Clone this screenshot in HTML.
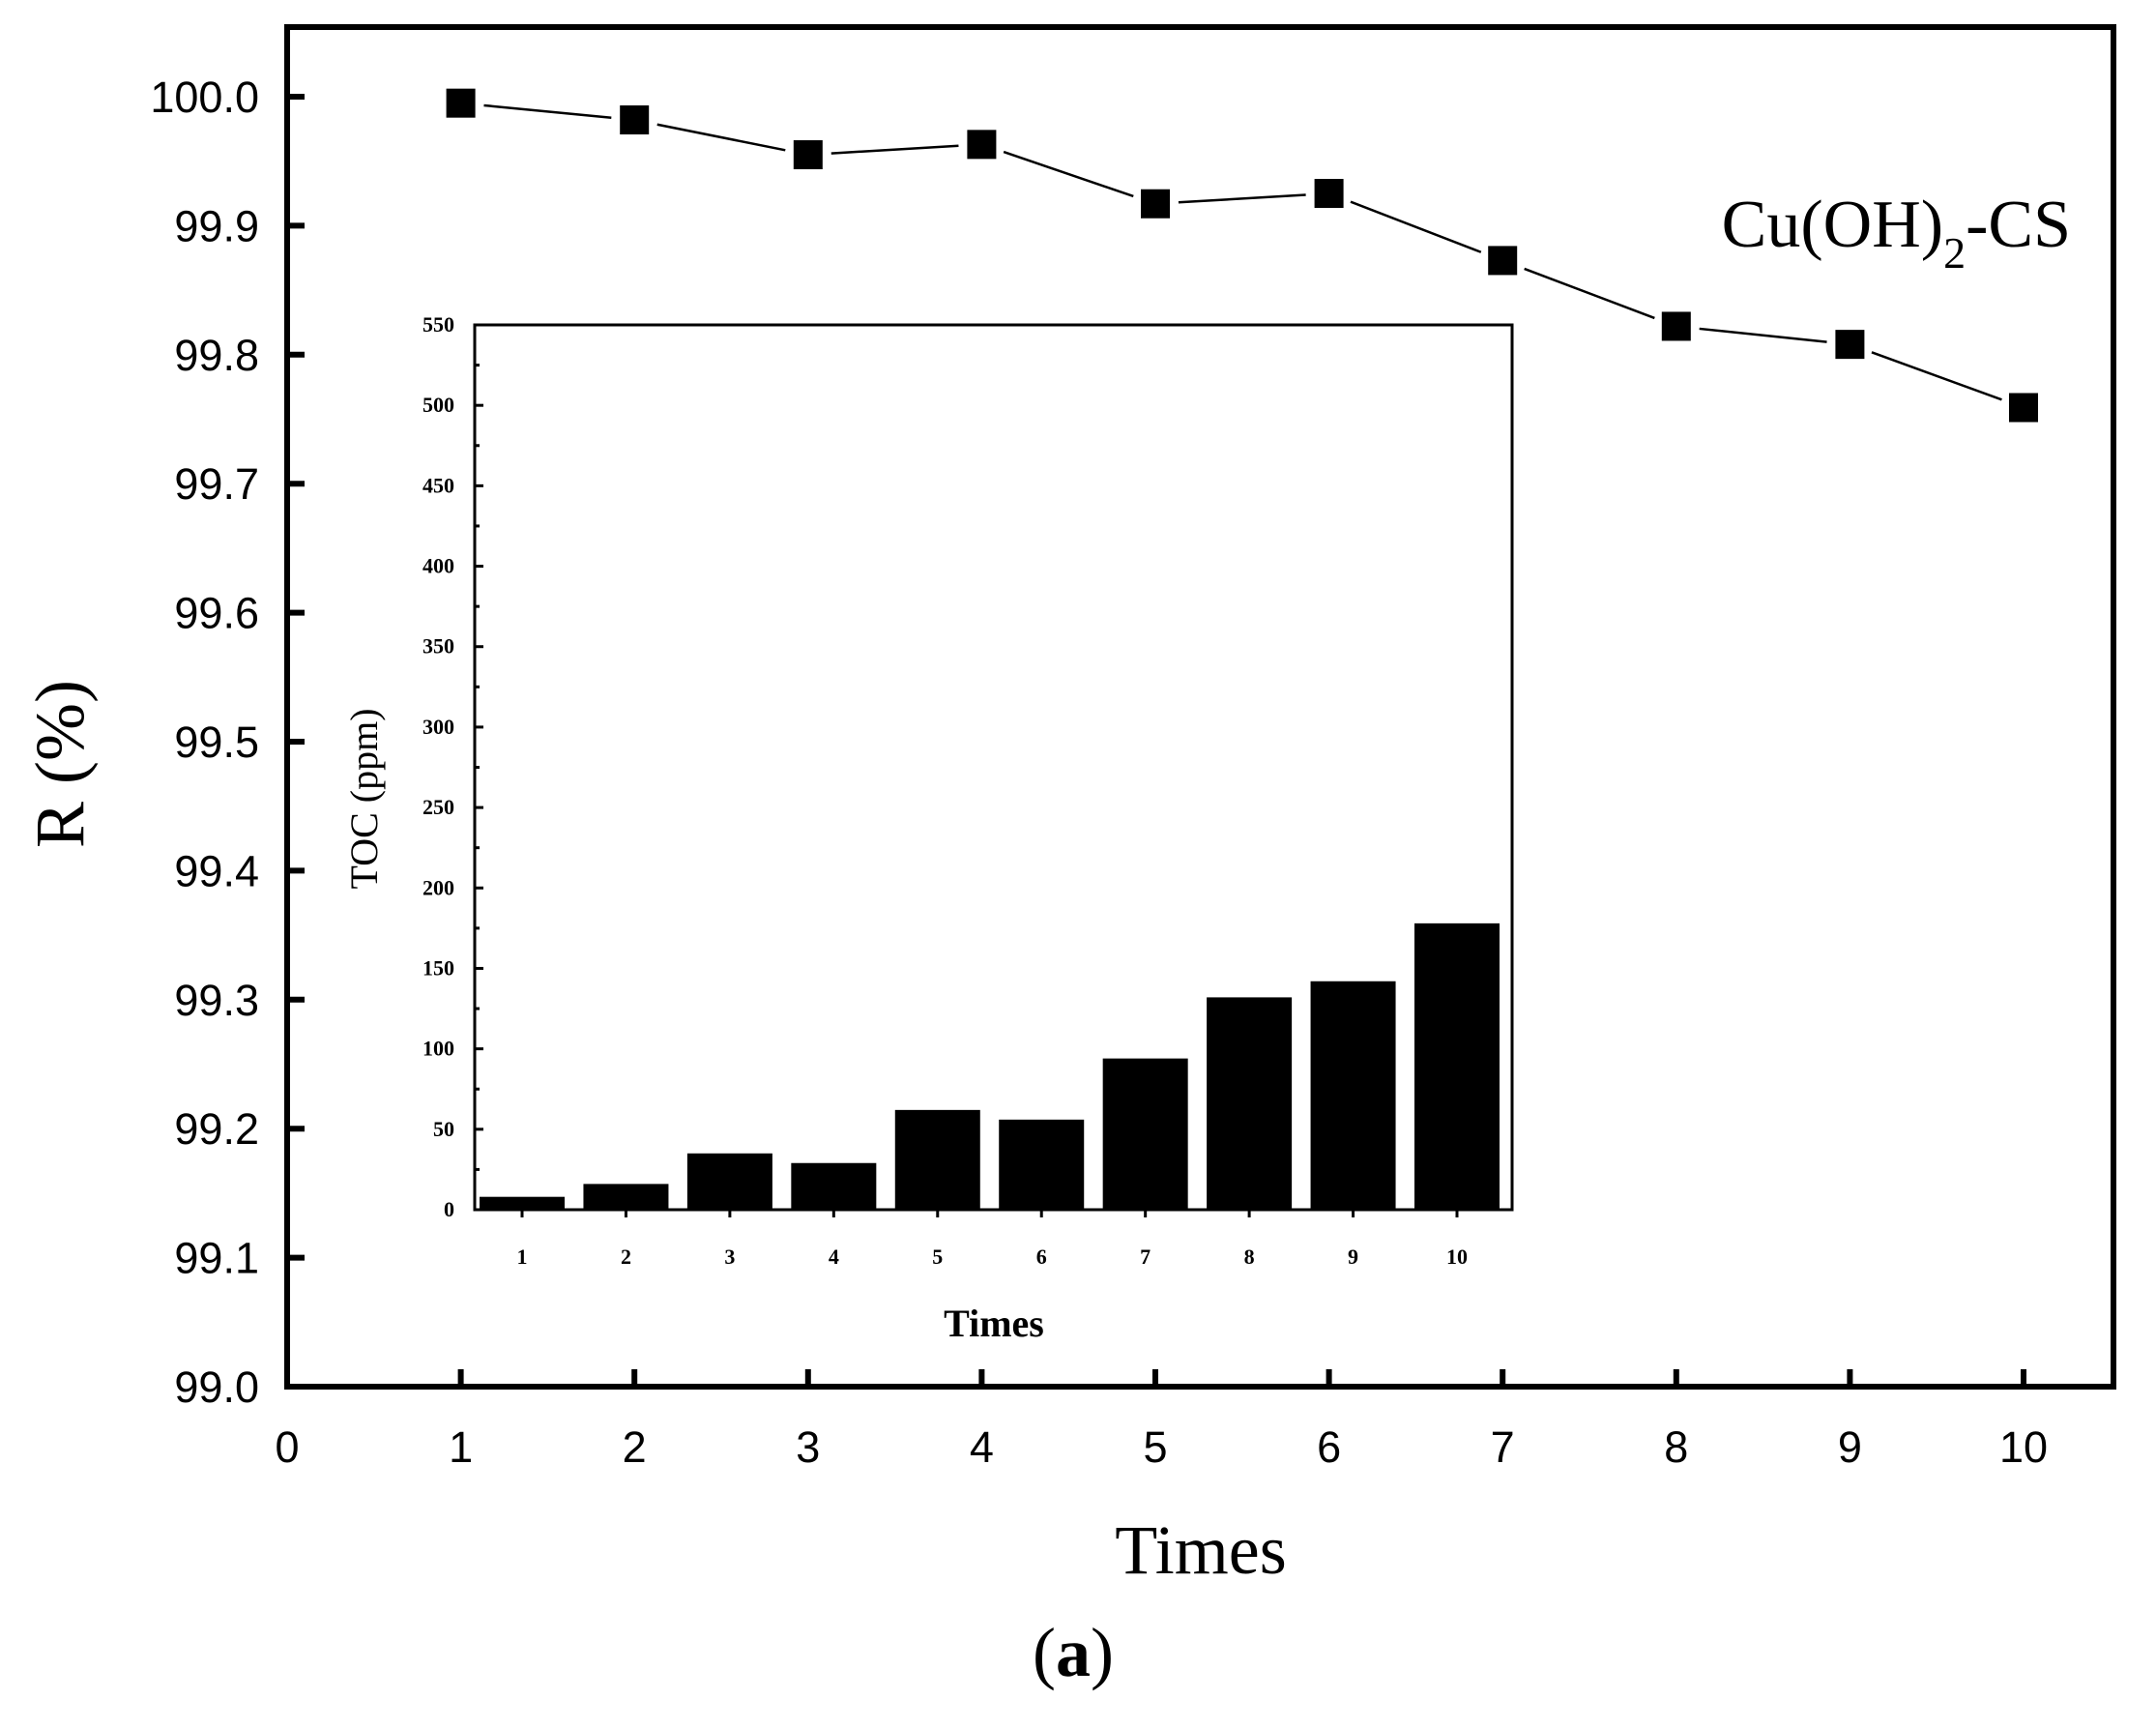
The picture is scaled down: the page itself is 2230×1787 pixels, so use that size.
<!DOCTYPE html>
<html><head><meta charset="utf-8"><style>
html,body{margin:0;padding:0;background:#fff;}
svg{display:block;}
</style></head><body>
<svg id="chart" width="2230" height="1787" viewBox="0 0 2230 1787" xmlns="http://www.w3.org/2000/svg">
<g id="main"></g>
<g id="inset"></g>
<text transform="translate(86,790) rotate(-90)" text-anchor="middle" font-family="Liberation Serif, serif" font-size="72">R (%)</text>
<text x="1242" y="1627" text-anchor="middle" font-family="Liberation Serif, serif" font-size="72">Times</text>
<text x="1110" y="1733" text-anchor="middle" font-family="Liberation Serif, serif" font-size="72">(<tspan font-weight="bold">a</tspan>)</text>
<text x="2142" y="255" text-anchor="end" font-family="Liberation Serif, serif" font-size="70">Cu(OH)<tspan font-size="46" dy="22">2</tspan><tspan dy="-22">-CS</tspan></text>
</svg>
<script>
const times = [1,2,3,4,5,6,7,8,9,10];
const removal = [99.995,99.982,99.955,99.963,99.917,99.925,99.873,99.822,99.808,99.759];
const yTicks = ["99.0","99.1","99.2","99.3","99.4","99.5","99.6","99.7","99.8","99.9","100.0"];
const xTicks = ["0","1","2","3","4","5","6","7","8","9","10"];
const tocTimes = [1,2,3,4,5,6,7,8,9,10];
const toc = [8,16,35,29,62,56,94,132,142,178];
const tocTicks = ["0","50","100","150","200","250","300","350","400","450","500","550"];

const NS="http://www.w3.org/2000/svg";
function mk(parent,tag,attrs){const e=document.createElementNS(NS,tag);for(const k in attrs)e.setAttribute(k,attrs[k]);parent.appendChild(e);return e;}

const L=297,R=2186,T=28,B=1434;
const sx=v=>297+(2093-297)*v/10;
const sy=v=>1434-(v-99)*(1434-100);
const main=document.getElementById('main');
let fr=mk(main,'rect',{x:L,y:T,width:R-L,height:B-T,fill:'none',stroke:'#000','stroke-width':6});


yTicks.forEach(t=>{const y=sy(parseFloat(t));
 const l=mk(main,'line',{x1:L,x2:L+18,y1:y,y2:y,stroke:'#000','stroke-width':6});
 
 
 const tx=mk(main,'text',{x:268,y:y+16,'text-anchor':'end','font-family':'Liberation Sans, sans-serif','font-size':45});
 tx.textContent=t;
 
 
});
xTicks.forEach(t=>{const x=sx(parseFloat(t));
 if(parseFloat(t)>0){const l=mk(main,'line',{x1:x,x2:x,y1:B,y2:B-18,stroke:'#000','stroke-width':6});
 
 }
 const tx=mk(main,'text',{x:x,y:1512,'text-anchor':'middle','font-family':'Liberation Sans, sans-serif','font-size':45});
 tx.textContent=t;
 
 
});
for(let i=0;i<times.length-1;i++){
 const x1=sx(times[i]),y1=sy(removal[i]),x2=sx(times[i+1]),y2=sy(removal[i+1]);
 const dx=x2-x1,dy=y2-y1,d=Math.hypot(dx,dy),g=24;
 const seg=mk(main,'line',{x1:x1+dx*g/d,y1:y1+dy*g/d,x2:x2-dx*g/d,y2:y2-dy*g/d,stroke:'#000','stroke-width':2.5});
 
 
}
times.forEach((t,i)=>{
 const m=mk(main,'rect',{x:sx(t)-15,y:sy(removal[i])-15,width:30,height:30,fill:'#000'});
 
 
});

const iL=491,iR=1564,iT=336,iB=1251;
const ix=v=>540+(1507-540)*(v-1)/9;
const iy=v=>1251-v*(1251-336)/550;
const inset=document.getElementById('inset');
const ifr=mk(inset,'path',{d:`M${iL},${iB} L${iL},${iT} L${iR},${iT} L${iR},${iB} Z`,fill:'none',stroke:'#000','stroke-width':3});


tocTimes.forEach((t,i)=>{
 const b=mk(inset,'rect',{x:ix(t)-44,y:iy(toc[i]),width:88,height:iB-iy(toc[i]),fill:'#000'});
 
 
 const tk=mk(inset,'line',{x1:ix(t),x2:ix(t),y1:iB,y2:iB+8,stroke:'#000','stroke-width':3});
 
 
 const tx=mk(inset,'text',{x:ix(t),y:1307,'text-anchor':'middle','font-family':'Liberation Serif, serif','font-size':22,'font-weight':'bold'});
 tx.textContent=String(t);
 
 
});
tocTicks.forEach(t=>{const v=parseFloat(t),y=iy(v);
 const tk=mk(inset,'line',{x1:iL,x2:iL+9,y1:y,y2:y,stroke:'#000','stroke-width':3});
 
 
 if(v<550){const mt=mk(inset,'line',{x1:iL,x2:iL+5,y1:iy(v+25),y2:iy(v+25),stroke:'#000','stroke-width':3});
 
 }
 const tx=mk(inset,'text',{x:470,y:y+7,'text-anchor':'end','font-family':'Liberation Serif, serif','font-size':22,'font-weight':'bold'});
 tx.textContent=t;
 
 
});
const ixt=mk(inset,'text',{x:1028,y:1382,'text-anchor':'middle','font-family':'Liberation Serif, serif','font-size':40,'font-weight':'bold'});
ixt.textContent='Times';


const iyt=mk(inset,'text',{transform:'translate(390,826) rotate(-90)','text-anchor':'middle','font-family':'Liberation Serif, serif','font-size':40});
iyt.textContent='TOC (ppm)';


</script>
</body></html>
